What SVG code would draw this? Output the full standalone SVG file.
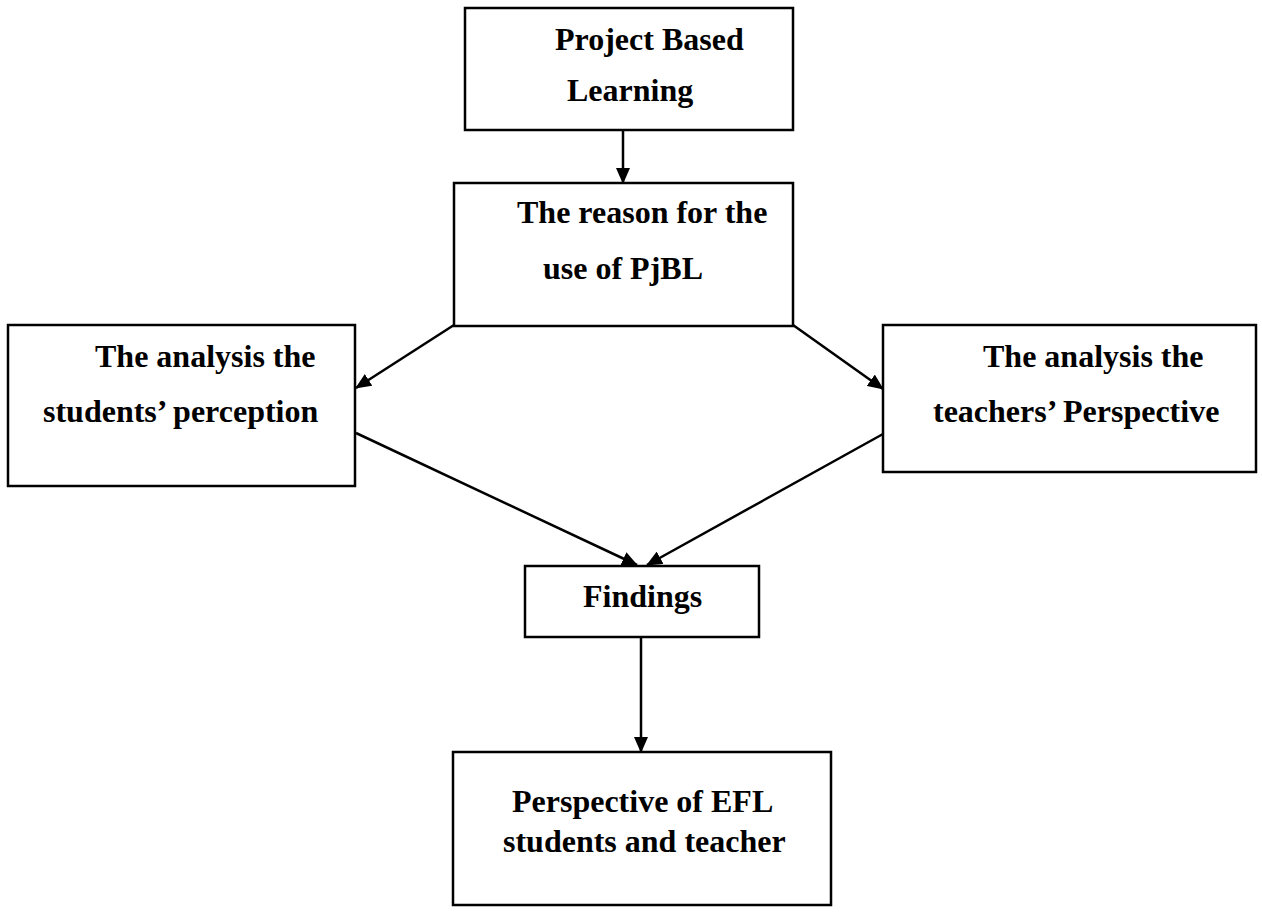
<svg xmlns="http://www.w3.org/2000/svg" width="1262" height="912" viewBox="0 0 1262 912">
<defs>
<style>
.box{fill:#fff;stroke:#000;stroke-width:2.5}
.t{font-family:"Liberation Serif","Times New Roman",serif;font-weight:bold;font-size:32px;fill:#000}
.c{stroke:#000;stroke-width:2.5;fill:none;marker-end:url(#ah)}
</style>
<marker id="ah" markerUnits="userSpaceOnUse" markerWidth="16" markerHeight="14" viewBox="0 0 16 14" refX="15" refY="7" orient="auto">
<path d="M0,0 L16,7 L0,14 Z" fill="#000"/>
</marker>
</defs>
<rect width="1262" height="912" fill="#fff"/>
<g id="connectors">
<line class="c" x1="623" y1="130" x2="623" y2="183"/>
<line class="c" x1="454" y1="325" x2="356" y2="388"/>
<line class="c" x1="793" y1="325" x2="883" y2="389"/>
<line class="c" x1="356" y1="433" x2="637" y2="565"/>
<line class="c" x1="883" y1="434" x2="647" y2="565"/>
<line class="c" x1="641" y1="637" x2="641" y2="752"/>
</g>
<g id="node-pbl">
<rect class="box" x="465" y="8" width="328" height="122"/>
<text class="t" x="555" y="50">Project Based</text>
<text class="t" x="567" y="101">Learning</text>
</g>
<g id="node-reason">
<rect class="box" x="454" y="183" width="339" height="143"/>
<text class="t" x="517" y="223">The reason for the</text>
<text class="t" x="543" y="279">use of PjBL</text>
</g>
<g id="node-students">
<rect class="box" x="8" y="325" width="347" height="161"/>
<text class="t" x="95" y="367">The analysis the</text>
<text class="t" x="43" y="422">students’ perception</text>
</g>
<g id="node-teachers">
<rect class="box" x="883" y="325" width="373" height="147"/>
<text class="t" x="983" y="367">The analysis the</text>
<text class="t" x="933" y="422">teachers’ Perspective</text>
</g>
<g id="node-findings">
<rect class="box" x="525" y="566" width="234" height="71"/>
<text class="t" x="583" y="607">Findings</text>
</g>
<g id="node-perspective">
<rect class="box" x="453" y="752" width="378" height="153"/>
<text class="t" x="512" y="812">Perspective of EFL</text>
<text class="t" x="503" y="852">students and teacher</text>
</g>
</svg>
